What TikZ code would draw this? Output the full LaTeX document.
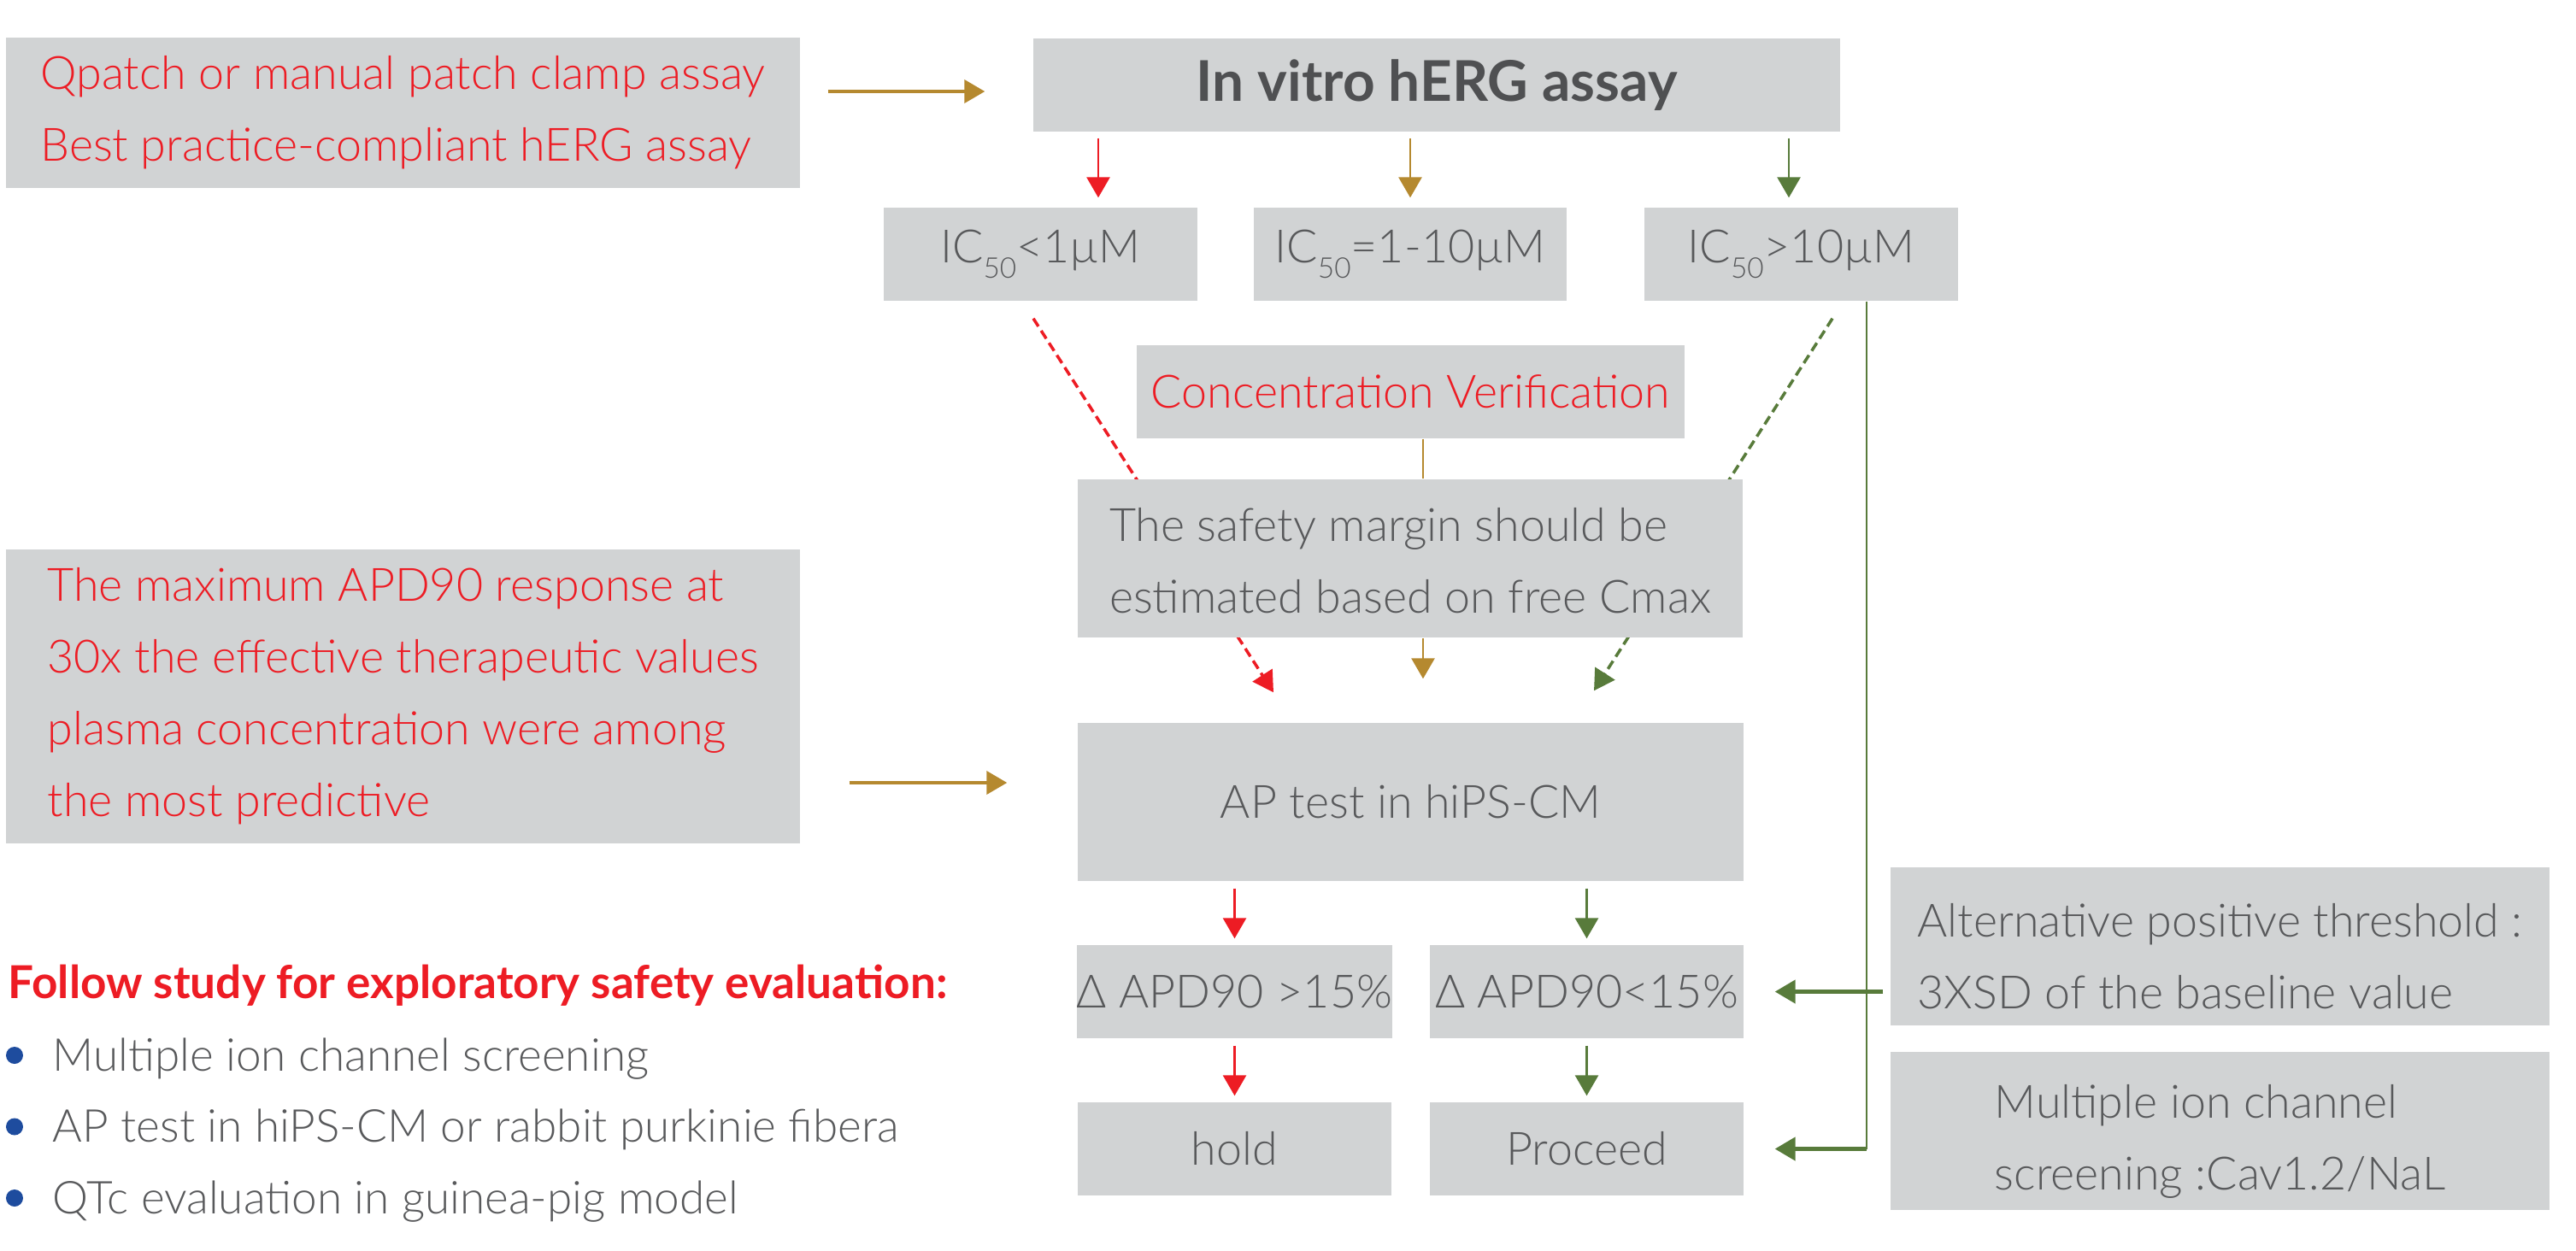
\documentclass[tikz,border=0pt]{standalone}
\usepackage{fontspec}
\setmainfont{Lato}[UprightFont=* Light, BoldFont=* Bold]
\usetikzlibrary{arrows.meta,backgrounds}

\definecolor{myred}{HTML}{ED1C24}
\definecolor{mygold}{HTML}{B5892F}
\definecolor{mygreen}{HTML}{587B3B}
\definecolor{boxgray}{HTML}{D1D3D4}
\definecolor{txtgray}{HTML}{58595B}
\definecolor{darkgray}{HTML}{4F5052}
\definecolor{dotblue}{HTML}{1E4C9E}

\newcommand{\icv}[1]{IC\raisebox{-0.18cm}{\fontsize{9.5pt}{10pt}\selectfont 50}#1}

\tikzset{
  box/.style={fill=boxgray, inner sep=0pt, align=left, text=txtgray,
    font=\fontsize{15.3pt}{23.9pt}\selectfont},
  boxtxt/.style={inner sep=0pt, align=left, text=txtgray,
    font=\fontsize{15.3pt}{23.9pt}\selectfont},
  redtxt/.style={text=myred},
  tip/.style={-{Triangle[length=2.4mm,width=2.7mm]}},
  arrR/.style={draw=myred, line width=0.8pt, tip},
  arrY/.style={draw=mygold, line width=0.8pt, tip},
  arrYh/.style={draw=mygold, line width=1.1pt, tip},
  arrG/.style={draw=mygreen, line width=0.8pt, tip},
  arrGh/.style={draw=mygreen, line width=1.3pt, tip},
  dashR/.style={draw=myred, line width=1pt, dash pattern=on 1.1mm off 0.6mm, tip},
  dashG/.style={draw=mygreen, line width=1pt, dash pattern=on 1.1mm off 0.6mm, tip},
}

\begin{document}
\begin{tikzpicture}
\useasboundingbox (0,0) rectangle (30.14,-14.63);

% Top row
\node[box, redtxt, minimum width=9.29cm, minimum height=1.76cm] (qbox) at (4.715,-1.32)
  {Qpatch or manual patch clamp assay\\Best practice-compliant hERG assay};
\node[box, text=darkgray, font=\fontsize{18.7pt}{22pt}\selectfont\bfseries,
  minimum width=9.44cm, minimum height=1.09cm] (herg) at (16.81,-0.995) {In vitro hERG assay};

% IC50 classes
\node[box, minimum width=3.67cm, minimum height=1.09cm] (ic1) at (12.175,-2.975) {\icv{<1µM}};
\node[box, minimum width=3.66cm, minimum height=1.09cm] (ic2) at (16.50,-2.975) {\icv{=1-10µM}};
\node[box, minimum width=3.67cm, minimum height=1.09cm] (ic3) at (21.075,-2.975) {\icv{>10µM}};

% Middle column
\node[box, redtxt, minimum width=6.41cm, minimum height=1.09cm] (conc) at (16.505,-4.585) {Concentration Verification};
\node[box, minimum width=7.78cm, minimum height=1.85cm] (safety) at (16.50,-6.535) {};
\node[boxtxt] (safetytxt) at ([yshift=-0.03cm]safety.center)
  {The safety margin should be\\estimated based on free Cmax};
\node[box, redtxt, minimum width=9.29cm, minimum height=3.44cm] (apd) at (4.715,-8.15)
  {The maximum APD90 response at\\30x the effective therapeutic values\\plasma concentration were among\\the most predictive};
\node[box, minimum width=7.79cm, minimum height=1.85cm] (aptest) at (16.505,-9.385) {AP test in hiPS-CM};

% Outcomes
\node[box, minimum width=3.67cm, minimum height=1.09cm] (apdhi) at (14.445,-11.605) {Δ APD90 >15\%};
\node[box, minimum width=3.67cm, minimum height=1.09cm] (apdlo) at (18.565,-11.605) {Δ APD90<15\%};
\node[box, minimum width=3.67cm, minimum height=1.09cm] (hold) at (14.445,-13.445) {hold};
\node[box, minimum width=3.67cm, minimum height=1.09cm] (proceed) at (18.565,-13.445) {Proceed};

% Right notes
\node[box, minimum width=7.71cm, minimum height=1.85cm] (alt) at (25.975,-11.075) {};
\node[boxtxt] (alttxt) at ([yshift=-0.12cm]alt.center)
  {Alternative positive threshold :\\3XSD of the baseline value};
\node[box, minimum width=7.71cm, minimum height=1.85cm] (multi) at (25.975,-13.235) {};
\node[boxtxt] (multitxt) at ([yshift=-0.12cm]multi.center)
  {Multiple ion channel\\screening :Cav1.2/NaL};

% Follow-up list
\node[anchor=base west, inner sep=0pt, text=myred, font=\fontsize{15.1pt}{17pt}\selectfont\bfseries]
  (follow) at (0.09,-11.68) {Follow study for exploratory safety evaluation:};
\foreach \txt [count=\i] in {Multiple ion channel screening, AP test in hiPS-CM or rabbit purkinie fibera, QTc evaluation in guinea-pig model} {
  \node[circle, fill=dotblue, inner sep=0pt, minimum size=0.2cm] (dot\i) at (0.17,{-12.35-0.835*(\i-1)}) {};
  \node[anchor=base west, inner sep=0pt, text=txtgray, font=\fontsize{15.1pt}{18pt}\selectfont]
    (item\i) at (0.61,{-12.53-0.835*(\i-1)}) {\txt};
}

% Arrows into the assays
\coordinate (hergin) at ([yshift=-0.075cm]herg.west);
\draw[arrYh, shorten <=0.32cm, shorten >=0.56cm] (qbox.east |- hergin) -- (hergin);
\coordinate (apin) at ([yshift=0.225cm]aptest.west);
\draw[arrYh, shorten <=0.57cm, shorten >=0.82cm] (apd.east |- apin) -- (apin);

% hERG -> IC50
\coordinate (c1) at ([xshift=0.675cm]ic1.north);
\coordinate (c3) at ([xshift=-0.145cm]ic3.north);
\draw[arrR, shorten <=0.07cm, shorten >=0.11cm] (c1 |- herg.south) -- (c1);
\draw[arrY, shorten <=0.07cm, shorten >=0.11cm] (ic2.north |- herg.south) -- (ic2.north);
\draw[arrG, shorten <=0.07cm, shorten >=0.11cm] (c3 |- herg.south) -- (c3);

% Dashed paths behind the safety box
\begin{pgfonlayer}{background}
\draw[dashR] ([xshift=-0.085cm,yshift=-0.2cm]ic1.south) -- ([xshift=-1.605cm,yshift=0.35cm]aptest.north);
\draw[dashG] ([xshift=0.365cm,yshift=-0.2cm]ic3.south) -- ([xshift=2.145cm,yshift=0.37cm]aptest.north);
\end{pgfonlayer}

% Concentration -> safety -> AP test
\coordinate (cv) at ([xshift=0.145cm]conc.south);
\draw[mygold, line width=0.8pt] (cv) -- (cv |- safety.north);
\draw[arrY, shorten >=0.51cm] (cv |- safety.south) -- (cv |- aptest.north);

% AP test -> outcomes
\draw[arrR, shorten <=0.08cm, shorten >=0.07cm] (apdhi.north |- aptest.south) -- (apdhi.north);
\draw[arrG, shorten <=0.08cm, shorten >=0.07cm] (apdlo.north |- aptest.south) -- (apdlo.north);
\draw[arrR, shorten <=0.08cm, shorten >=0.07cm] (apdhi.south) -- (hold.north);
\draw[arrG, shorten <=0.08cm, shorten >=0.07cm] (apdlo.south) -- (proceed.north);

% IC50 > 10 path and threshold
\coordinate (gx) at ([xshift=0.765cm]ic3.south);
\coordinate (bend) at (gx |- proceed.east);
\draw[mygreen, line width=0.45pt] (gx) -- (bend);
\draw[arrGh, shorten >=0.36cm] (bend) -- (proceed.east);
\draw[arrGh, shorten <=0.08cm, shorten >=0.36cm] (alt.west |- apdlo.east) -- (apdlo.east);

\end{tikzpicture}
\end{document}
